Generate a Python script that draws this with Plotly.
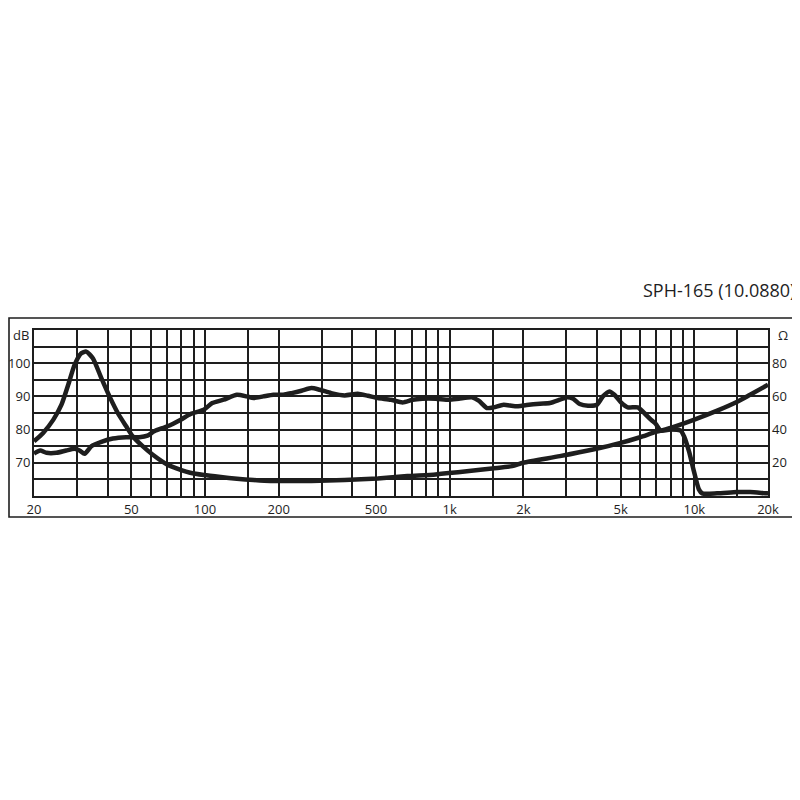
import math
import plotly.graph_objects as go

# frequency response (dB, left axis)
spl_freq = [20, 21.2, 22.5, 24.7, 27.1, 29.3, 30.7, 32.2, 34.3, 37.7, 42, 47.6, 53.9, 58.2,
            62, 70.2, 79.6, 87.4, 98.9, 107, 119, 135, 148, 158, 173, 190, 209, 226, 248,
            272, 294, 328, 372, 421, 463, 508, 575, 642, 705, 774, 876, 993, 1090, 1234,
            1314, 1420, 1512, 1661, 1851, 2064, 2338, 2568, 2820, 3000, 3196, 3400, 3676,
            4000, 4228, 4498, 4712, 5000, 5344, 5868, 6240, 6643, 6960, 7294, 8000, 8794,
            9070, 9504, 9956, 10436, 10765, 12388, 14930, 16900, 19770, 20000]
spl_db = [72.8, 73.7, 73.0, 73.0, 73.7, 74.2, 73.7, 72.7, 75.0, 76.3, 77.3, 77.7, 77.7, 78.2,
          79.5, 81.0, 83.0, 84.7, 86.0, 88.0, 89.0, 90.5, 90.0, 89.5, 90.0, 90.5, 90.5, 91.0,
          91.7, 92.5, 92.0, 91.0, 90.3, 90.8, 90.2, 89.5, 89.0, 88.2, 89.0, 89.3, 89.3, 89.0,
          89.3, 89.7, 88.7, 86.5, 86.7, 87.5, 87.0, 87.4, 87.8, 88.0, 89.0, 89.7, 89.3, 87.7,
          87.2, 87.5, 90.0, 91.5, 90.5, 88.3, 86.7, 86.7, 85.0, 83.0, 81.7, 79.7, 80.0, 79.7,
          78.0, 73.5, 67.5, 62.0, 60.8, 60.8, 61.2, 61.2, 60.8, 60.8]

# impedance (ohm, right axis)
imp_freq = [20, 21.8, 24, 25.9, 27.6, 29.3, 31.2, 32.7, 34.8, 37.7, 40.7, 44, 47.6, 50.6,
            55.6, 61, 70, 80, 87, 99, 116, 135, 158, 185, 209, 272, 372, 508, 672, 876,
            1200, 1490, 1800, 2000, 2820, 3850, 5000, 6000, 6960, 8000, 10000, 12400,
            14900, 16900, 20000]
imp_ohm = [33, 38, 46, 55, 67, 79, 86, 87, 83, 71, 60, 50, 42, 36, 30, 25, 19, 15.6, 14,
           12.6, 11.4, 10.4, 9.6, 9, 9, 9, 9.6, 10.6, 12, 13, 15, 16.6, 18, 20, 24, 28, 32,
           35.4, 38.6, 41, 46, 51.4, 56.6, 61, 67]

x_grid = [20, 30, 40, 50, 60, 70, 80, 90, 100, 150, 200, 300, 400, 500, 600, 700, 800, 900,
          1000, 1500, 2000, 3000, 4000, 5000, 6000, 7000, 8000, 9000, 10000, 15000, 20000]
x_labels = {20: "20", 50: "50", 100: "100", 200: "200", 500: "500", 1000: "1k",
            2000: "2k", 5000: "5k", 10000: "10k", 20000: "20k"}
db_grid = [60, 65, 70, 75, 80, 85, 90, 95, 100, 105, 110]
db_labels = {70: "70", 80: "80", 90: "90", 100: "100"}
ohm_ticks = [20, 40, 60, 80]

ink = "#1e1e1e"
font = dict(family="Open Sans, sans-serif", size=13, color=ink)

# the page body adds 8px, so the figure is laid out 8px up/left of the target
L, T, W, H = 26, 322, 734, 166

fig = go.Figure()
fig.add_trace(go.Scatter(x=spl_freq, y=spl_db, mode="lines",
                         line=dict(color=ink, width=4.5, shape="spline", smoothing=0.6),
                         hoverinfo="skip"))
fig.add_trace(go.Scatter(x=imp_freq, y=imp_ohm, mode="lines", yaxis="y2",
                         line=dict(color=ink, width=4.5, shape="spline", smoothing=0.6),
                         hoverinfo="skip"))

fig.update_layout(
    width=800, height=800, autosize=False,
    margin=dict(l=L, r=800 - L - W, t=T, b=800 - T - H, pad=0),
    paper_bgcolor="white", plot_bgcolor="white",
    showlegend=False, font=font,
    xaxis=dict(type="log", range=[math.log10(20), math.log10(20000)],
               tickvals=x_grid, ticktext=[x_labels.get(v, "") for v in x_grid],
               showgrid=True, gridcolor=ink, gridwidth=1.8,
               showline=True, linecolor=ink, linewidth=2, mirror=True,
               ticks="", zeroline=False, tickfont=font, automargin=False),
    yaxis=dict(range=[60, 110], tickvals=db_grid,
               ticktext=[db_labels.get(v, "") for v in db_grid],
               showgrid=True, gridcolor=ink, gridwidth=1.8,
               showline=True, linecolor=ink, linewidth=2, mirror=True,
               ticks="", zeroline=False, tickfont=font, automargin=False,
               ticklabelstandoff=-1),
    yaxis2=dict(range=[0, 100], overlaying="y", side="right",
                tickvals=ohm_ticks, ticktext=[str(v) for v in ohm_ticks],
                showgrid=False, zeroline=False, ticks="", tickfont=font,
                automargin=False, ticklabelstandoff=3),
)

# outer frame around the whole diagram
fig.add_shape(type="rect", xref="paper", yref="paper",
              x0=(1 - L) / W, x1=(789 - L) / W,
              y0=(T + H - 509) / H, y1=(T + H - 310) / H,
              line=dict(color=ink, width=1.6), layer="below")

fig.add_annotation(text="dB", xref="paper", yref="y", x=0, y=108.4,
                   xanchor="right", xshift=-3, showarrow=False, font=font)
fig.add_annotation(text="Ω", xref="paper", yref="y", x=1, y=108.4,
                   xanchor="left", xshift=8, showarrow=False, font=font)
fig.add_annotation(text="SPH-165 (10.0880)", xref="paper", yref="paper",
                   x=(789 - L) / W, y=(T + H - 282) / H,
                   xanchor="right", yanchor="middle", showarrow=False,
                   font=dict(family="Open Sans, sans-serif", size=18, color=ink))

fig.write_html("out.html", config={"displayModeBar": False})
